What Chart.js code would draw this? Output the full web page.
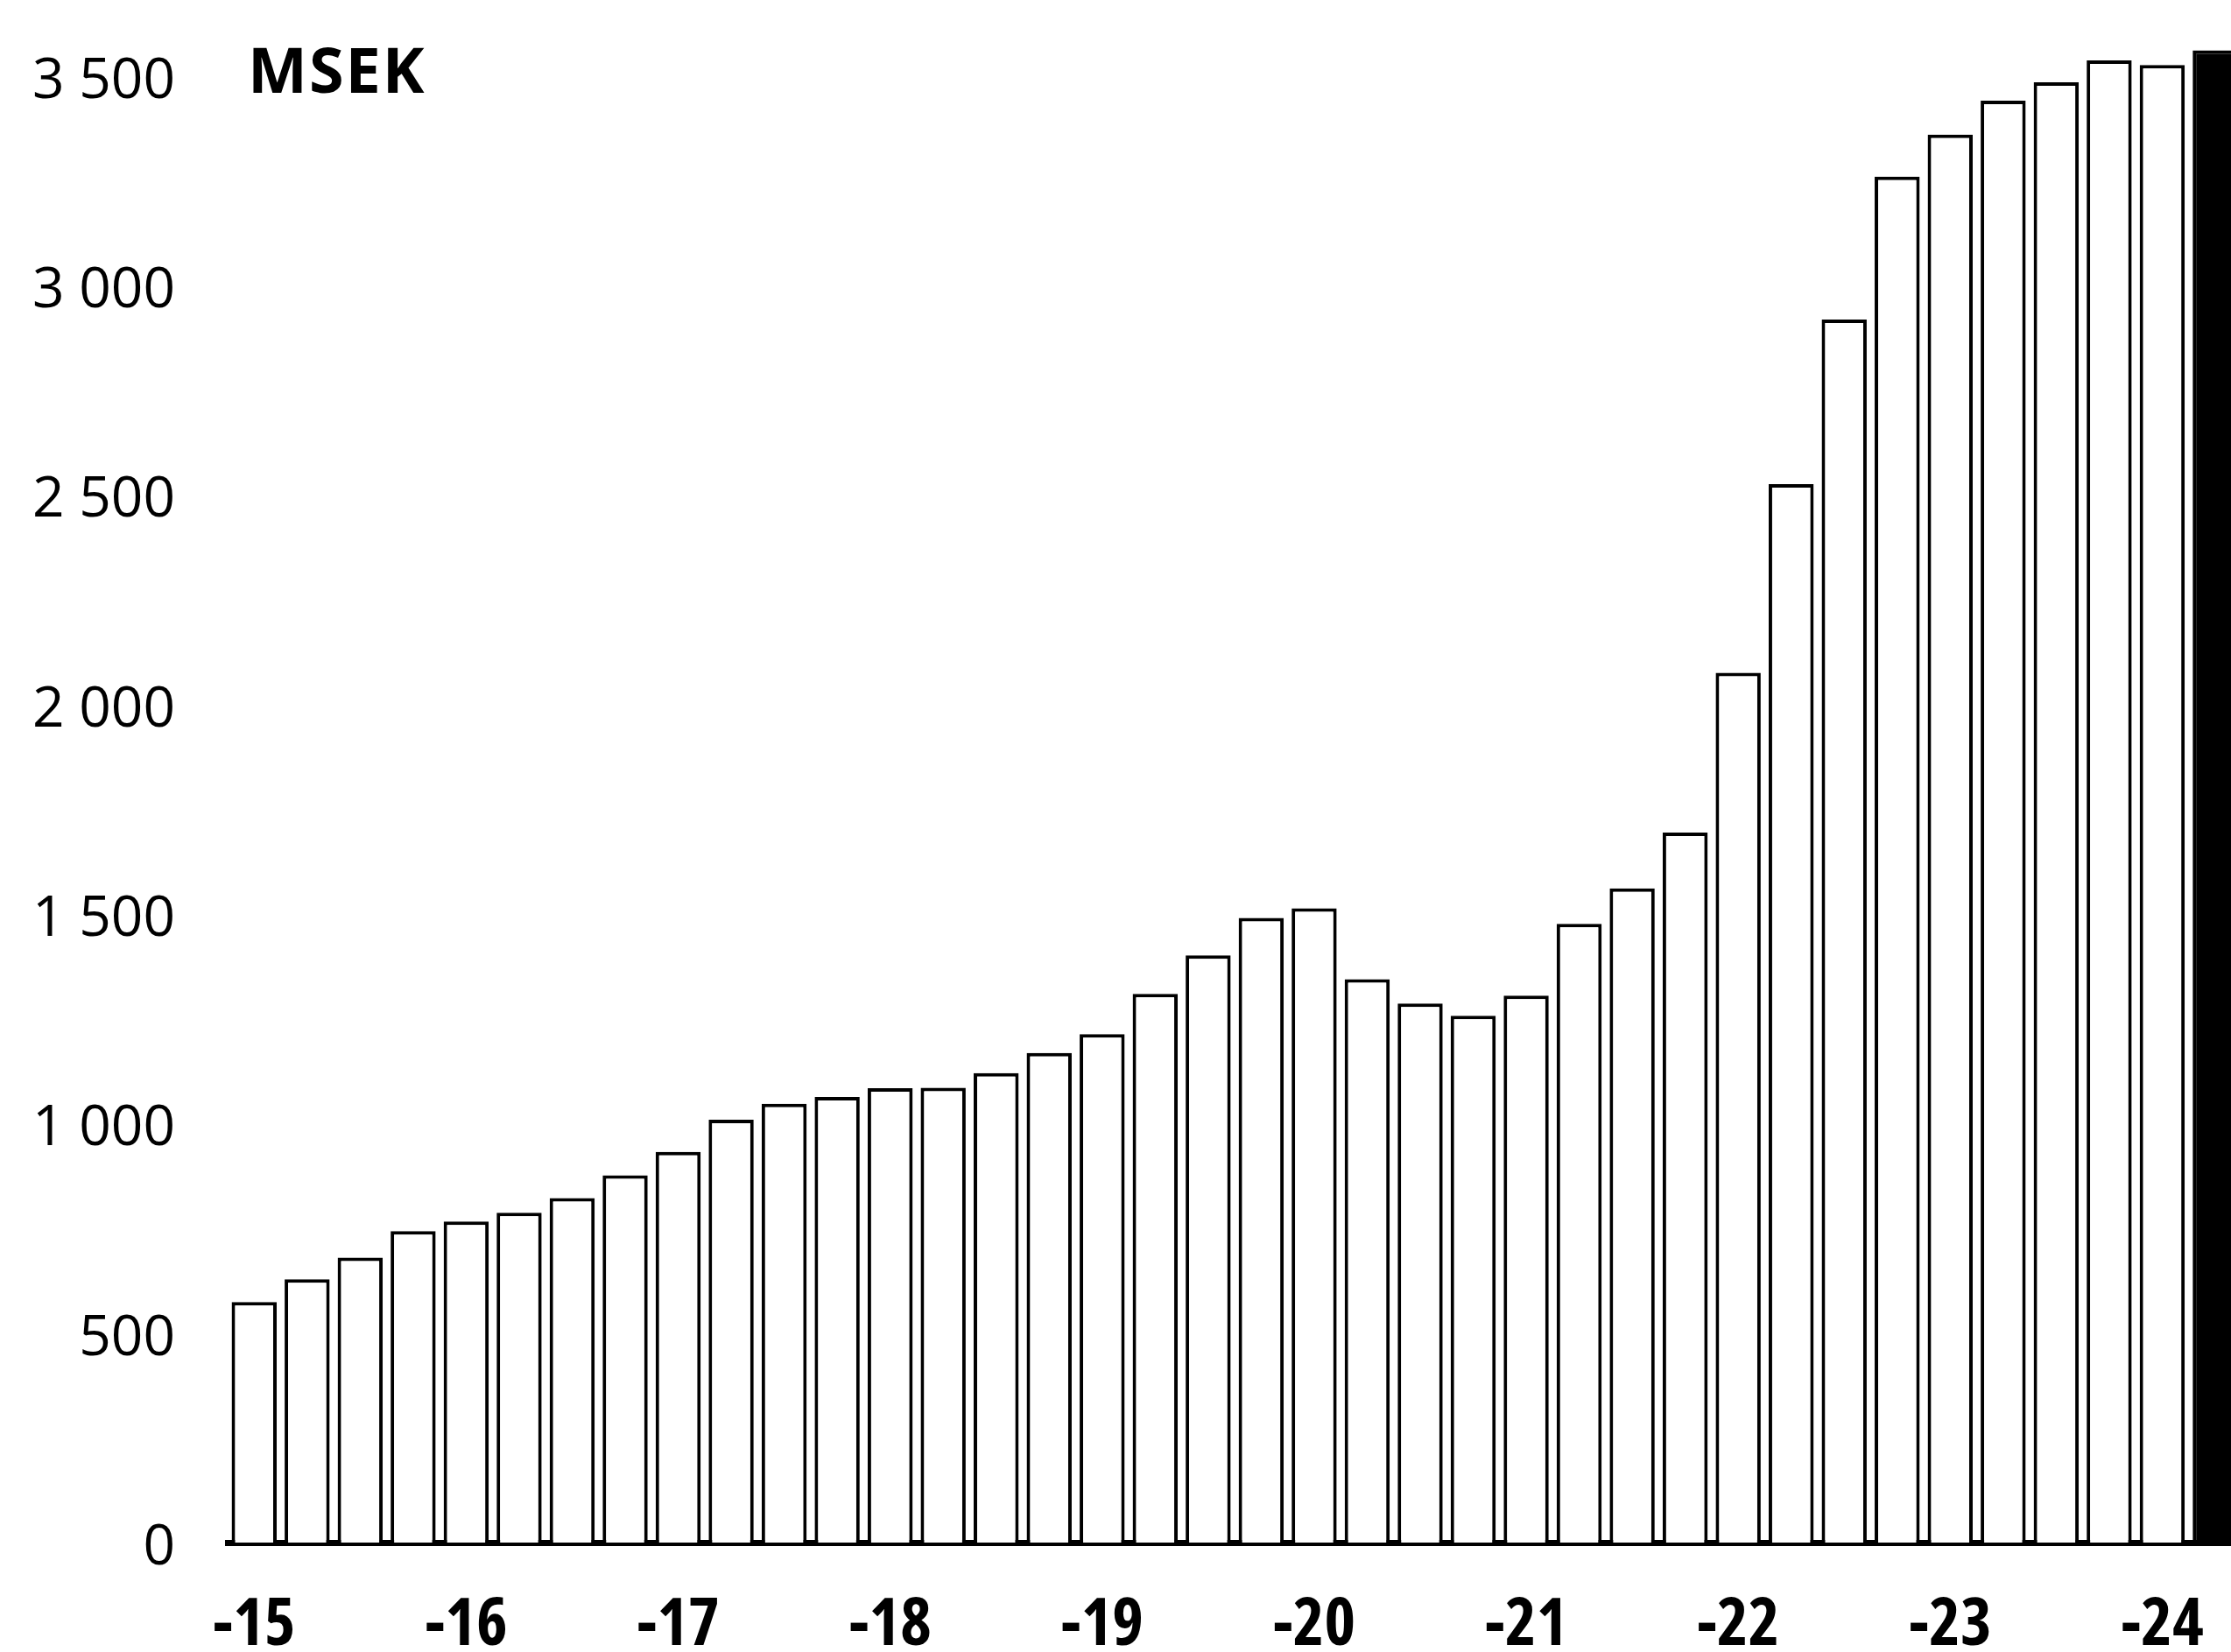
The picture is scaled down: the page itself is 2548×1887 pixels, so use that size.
<!DOCTYPE html>
<html>
<head>
<meta charset="utf-8">
<script src="https://cdn.jsdelivr.net/npm/chart.js@4/dist/chart.umd.min.js"></script>
<style>
  html, body { margin: 0; padding: 0; background: #ffffff; overflow: hidden; }
  #wrap { width: 2548px; height: 1887px; overflow: hidden; position: relative; }
  canvas { display: block; }
</style>
</head>
<body>
<div id="wrap"><canvas id="c" width="2580" height="1887" style="width:2580px;height:1887px"></canvas></div>
<script>
// Quarterly categories, 2015 Q1 .. 2024 Q2
const years = ['-15','-16','-17','-18','-19','-20','-21','-22','-23','-24'];
const quarters = ['Q1','Q2','Q3','Q4'];
const categories = [];
years.forEach(y => quarters.forEach(q => categories.push(q + ' ' + y)));
categories.length = 38;

// Values in MSEK
const values = [574, 628, 680, 743, 766, 787, 822, 876, 932, 1009,
                1047, 1063, 1084, 1085, 1120, 1168, 1213, 1309, 1401, 1490,
                1513, 1344, 1286, 1257, 1305, 1476, 1561, 1694, 2075, 2525,
                2918, 3259, 3359, 3440, 3484, 3536, 3525, 3560];

const yTicks = [0, 500, 1000, 1500, 2000, 2500, 3000, 3500];
const unitLabel = 'MSEK';

const fillColors = values.map((v, i) => i === values.length - 1 ? '#000000' : '#ffffff');

function fmt(v) {
  return v >= 1000 ? Math.floor(v / 1000) + ' ' + String(v % 1000).padStart(3, '0') : String(v);
}

const unitPlugin = {
  id: 'unitLabel',
  afterDraw(chart) {
    const ctx = chart.ctx;
    const y = chart.scales.y.getPixelForValue(3500);
    ctx.save();
    ctx.font = 'bold 72px "Open Sans", "Noto Sans", sans-serif';
    try { ctx.letterSpacing = '2px'; } catch (e) {}
    ctx.fillStyle = '#000';
    ctx.textBaseline = 'middle';
    ctx.textAlign = 'left';
    ctx.fillText(unitLabel, chart.chartArea.left + 23, y - 1);
    ctx.restore();
  }
};

new Chart(document.getElementById('c'), {
  type: 'bar',
  data: {
    labels: categories,
    datasets: [{
      data: values,
      backgroundColor: fillColors,
      borderColor: '#000000',
      borderWidth: 4,
      borderSkipped: 'bottom',
      barPercentage: 0.85,
      categoryPercentage: 1.0
    }]
  },
  options: {
    responsive: false,
    animation: false,
    devicePixelRatio: 1,
    layout: { padding: { top: 38, right: 4, left: 0, bottom: 0 } },
    plugins: { legend: { display: false }, tooltip: { enabled: false } },
    scales: {
      x: {
        grid: { display: false, drawTicks: false },
        border: { display: true, color: '#000', width: 7 },
        ticks: {
          autoSkip: false,
          maxRotation: 0,
          minRotation: 0,
          padding: 50,
          color: '#000',
          font: { family: '"Liberation Sans Narrow", "Open Sans", "Roboto", sans-serif', size: 76, weight: 'bold condensed' },
          callback: (val, idx) => idx % 4 === 0 ? years[idx / 4] : ''
        },
        afterFit: (s) => { s.height = 125; }
      },
      y: {
        position: 'left',
        weight: 1,
        min: 0,
        max: 3600,
        grid: { display: false, drawTicks: false },
        border: { display: false },
        afterBuildTicks: (s) => { s.ticks = yTicks.map(v => ({ value: v })); },
        ticks: {
          padding: 0,
          labelOffset: 7,
          color: '#000',
          font: { family: '"Open Sans", "Noto Sans", sans-serif', size: 64, weight: '400' },
          callback: (v) => fmt(v)
        },
        afterFit: (s) => { s.width = 200; }
      },
      gap: {
        type: 'linear',
        position: 'left',
        weight: 0,
        display: true,
        grid: { display: false, drawTicks: false },
        border: { display: false },
        ticks: { display: false },
        afterFit: (s) => { s.width = 60; }
      }
    }
  },
  plugins: [unitPlugin]
});
</script>
</body>
</html>
